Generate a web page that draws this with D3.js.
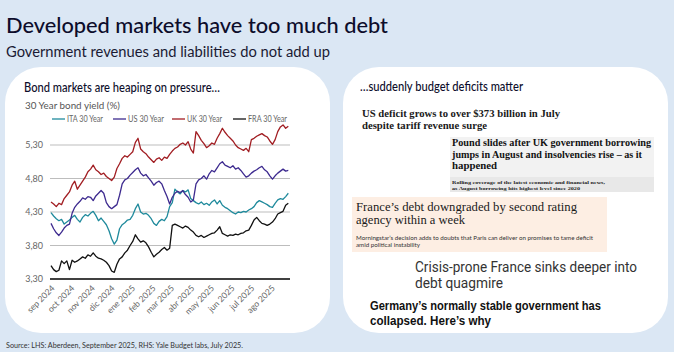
<!DOCTYPE html>
<html><head><meta charset="utf-8">
<script src="https://cdn.jsdelivr.net/npm/d3@7/dist/d3.min.js"></script>
<style>body{margin:0;background:#dbe7f4;}svg{display:block}</style>
</head><body>
<script>
// ---------- DATA ----------
const seriesNames = ["ITA 30 Year", "US 30 Year", "UK 30 Year", "FRA 30 Year"];
const startDate = new Date(2024, 8, 1);
const stepDays = 4;
const itaValues = [4.29,4.24,4.20,4.17,4.19,4.12,4.15,4.18,4.22,4.25,4.19,4.15,4.22,4.26,4.24,4.28,4.31,4.25,4.17,4.21,4.16,4.11,4.02,3.90,3.82,3.88,4.05,4.11,4.14,4.18,4.19,4.25,4.35,4.42,4.30,4.27,4.28,4.25,4.20,4.13,4.10,4.16,4.19,4.17,4.23,4.38,4.44,4.64,4.60,4.57,4.62,4.60,4.63,4.50,4.47,4.44,4.42,4.45,4.41,4.43,4.40,4.45,4.48,4.42,4.47,4.40,4.37,4.35,4.32,4.29,4.27,4.30,4.29,4.31,4.30,4.33,4.35,4.38,4.44,4.47,4.45,4.43,4.41,4.38,4.37,4.43,4.48,4.50,4.49,4.53,4.58];
const usValues = [4.13,4.05,3.99,3.95,4.00,4.06,4.10,4.12,4.28,4.37,4.42,4.46,4.51,4.49,4.53,4.52,4.47,4.54,4.58,4.62,4.58,4.44,4.38,4.35,4.38,4.41,4.55,4.72,4.78,4.80,4.85,4.89,4.93,4.96,4.88,4.84,4.86,4.81,4.76,4.70,4.74,4.76,4.72,4.62,4.53,4.42,4.52,4.58,4.61,4.59,4.62,4.56,4.52,4.45,4.48,4.72,4.78,4.80,4.84,4.79,4.87,4.92,4.90,4.96,5.02,5.05,5.00,4.98,4.96,4.99,4.94,4.96,4.92,4.87,4.82,4.84,4.88,4.91,4.93,4.96,4.98,4.93,4.90,4.84,4.79,4.84,4.88,4.91,4.94,4.91,4.92];
const ukValues = [4.45,4.42,4.38,4.43,4.41,4.50,4.55,4.60,4.70,4.76,4.64,4.70,4.76,4.82,4.90,4.94,5.00,4.93,4.90,4.86,4.88,4.83,4.80,4.77,4.82,4.95,5.02,5.10,5.14,5.12,5.16,5.20,5.34,5.40,5.24,5.20,5.17,5.12,5.08,5.04,5.09,5.11,5.07,5.12,5.10,5.16,5.21,5.25,5.27,5.31,5.33,5.30,5.35,5.24,5.18,5.50,5.44,5.37,5.32,5.26,5.29,5.33,5.31,5.40,5.47,5.55,5.49,5.44,5.40,5.36,5.30,5.26,5.24,5.22,5.25,5.20,5.38,5.40,5.43,5.45,5.47,5.44,5.42,5.36,5.31,5.38,5.50,5.57,5.60,5.55,5.58];
const fraValues = [3.50,3.44,3.41,3.43,3.57,3.53,3.57,3.44,3.58,3.55,3.57,3.60,3.63,3.61,3.66,3.64,3.69,3.64,3.61,3.60,3.58,3.55,3.50,3.42,3.40,3.52,3.60,3.63,3.69,3.73,3.80,3.86,3.96,3.90,3.85,3.87,3.84,3.78,3.70,3.63,3.67,3.70,3.74,3.77,3.73,3.76,4.10,4.12,4.10,4.08,4.06,4.09,4.07,4.03,4.00,3.95,3.93,3.95,3.92,3.94,3.96,3.98,3.99,4.03,4.08,3.98,3.96,3.94,3.96,3.95,3.97,3.96,3.98,3.99,4.02,4.03,4.10,4.18,4.22,4.17,4.13,4.12,4.10,4.12,4.15,4.20,4.27,4.29,4.31,4.40,4.43];
const yTickValues = [3.3, 3.8, 4.3, 4.8, 5.3];
const monthLabels = ["sep 2024","oct 2024","nov 2024","dic 2024","ene 2025","feb 2025","mar 2025","abr 2025","may 2025","jun 2025","jul 2025","ago 2025"];
const seriesColors = ["#1f8a9c", "#3d2a8f", "#a11d22", "#111111"];

// ---------- SETUP ----------
const W = 674, H = 352;
const svg = d3.select("body").append("svg").attr("width", W).attr("height", H);
svg.append("rect").attr("width", W).attr("height", H).attr("fill", "#dbe7f4");

const sans = "Lato, 'Noto Sans', sans-serif";
function txt(g, x, y, s, size, opts = {}) {
  const t = g.append("text").attr("x", x).attr("y", y).text(s)
    .attr("font-size", size).attr("font-family", opts.family || sans)
    .attr("fill", opts.fill || "#0d0d2b");
  if (opts.weight) t.attr("font-weight", opts.weight);
  if (opts.anchor) t.attr("text-anchor", opts.anchor);
  if (opts.len) t.attr("textLength", opts.len).attr("lengthAdjust", "spacingAndGlyphs");
  return t;
}

// Title
txt(svg, 6, 33, "Developed markets have too much debt", 22, {weight: 500, len: 382});
txt(svg, 6, 57, "Government revenues and liabilities do not add up", 14.5, {len: 324, fill: "#1a1a33"});

// Panels
svg.append("rect").attr("x", 5).attr("y", 67).attr("width", 325).attr("height", 266).attr("rx", 36).attr("fill", "#fff");
svg.append("rect").attr("x", 343).attr("y", 67).attr("width", 325).attr("height", 266).attr("rx", 36).attr("fill", "#fff");

// Source
txt(svg, 6, 348, "Source: LHS: Aberdeen, September 2025, RHS: Yale Budget labs, July 2025.", 7.5, {len: 237, fill: "#333"});

// ---------- LEFT CHART ----------
const L = svg.append("g");
txt(L, 24, 91.5, "Bond markets are heaping on pressure\u2026", 12.5, {weight: 500, len: 196});
txt(L, 25, 109, "30 Year bond yield (%)", 10, {fill: "#555", len: 95});

const dates = itaValues.map((_, i) => d3.timeDay.offset(startDate, i * stepDays));
const x = d3.scaleTime().domain([startDate, dates[dates.length - 1]]).range([51, 288.3]);
const y = d3.scaleLinear().domain([3.3, 5.3]).range([279, 145]);

// grid
const grid = L.append("g");
yTickValues.forEach(v => {
  grid.append("line").attr("x1", 50).attr("x2", 290).attr("y1", y(v)).attr("y2", y(v))
    .attr("stroke", v === 3.3 ? "#000" : "#bdbdbd").attr("stroke-width", v === 3.3 ? 1.6 : 1);
});
const yAxis = L.append("g").attr("transform", "translate(50,0)")
  .call(d3.axisLeft(y).tickValues(yTickValues).tickSize(0).tickPadding(7)
    .tickFormat(d => d3.format(".2f")(d).replace(".", ",")));
yAxis.select(".domain").remove();
yAxis.selectAll("text").attr("font-size", 9).attr("font-family", sans).attr("fill", "#666");

const monthDates = d3.timeMonth.range(new Date(2024, 8, 1), new Date(2025, 8, 1));
const xAxis = L.append("g").attr("transform", "translate(0,282)")
  .call(d3.axisBottom(x).tickValues(monthDates).tickSize(0).tickPadding(0)
    .tickFormat((d, i) => monthLabels[i]));
xAxis.select(".domain").remove();
xAxis.selectAll("text").attr("font-size", 8.5).attr("font-family", sans).attr("fill", "#666")
  .attr("text-anchor", "end").attr("dy", "0.3em")
  .attr("transform", "translate(2,5) rotate(-45)");

const allSeries = [itaValues, usValues, ukValues, fraValues];
const line = d3.line().x((d, i) => x(dates[i])).y(d => y(d)).curve(d3.curveLinear);
allSeries.forEach((vals, k) => {
  L.append("path").datum(vals).attr("d", line).attr("fill", "none")
    .attr("stroke", seriesColors[k]).attr("stroke-width", 1.3).attr("stroke-linejoin", "round");
});

const legendX = [52, 113, 172, 233];
const legendTextLen = [36, 36, 35, 39];
seriesNames.forEach((n, k) => {
  L.append("line").attr("x1", legendX[k]).attr("x2", legendX[k] + 13).attr("y1", 119).attr("y2", 119)
    .attr("stroke", seriesColors[k]).attr("stroke-width", 1.3);
  txt(L, legendX[k] + 15, 122, n, 8.5, {fill: "#666", len: legendTextLen[k]});
});

// ---------- RIGHT PANEL ----------
const R = svg.append("g");
txt(R, 360, 91, "\u2026suddenly budget deficits matter", 12.5, {weight: 500, len: 163});

const serif = "'Liberation Serif', 'DejaVu Serif', serif";
txt(R, 362, 116.5, "US deficit grows to over $373 billion in July", 11, {family: serif, weight: 700, fill: "#1a1a1a", len: 198});
txt(R, 362, 128.5, "despite tariff revenue surge", 11, {family: serif, weight: 700, fill: "#1a1a1a", len: 125});

R.append("rect").attr("x", 450).attr("y", 137).attr("width", 204).attr("height", 40).attr("fill", "#f2f2f2");
R.append("rect").attr("x", 450).attr("y", 177).attr("width", 204).attr("height", 15).attr("fill", "#e8e8e8");
txt(R, 452, 146, "Pound slides after UK government borrowing", 10.5, {family: serif, weight: 700, fill: "#121212", len: 199});
txt(R, 452, 157.5, "jumps in August and insolvencies rise \u2013 as it", 10.5, {family: serif, weight: 700, fill: "#121212", len: 190});
txt(R, 452, 168.5, "happened", 10.5, {family: serif, weight: 700, fill: "#121212", len: 45});
txt(R, 452, 183.5, "Rolling coverage of the latest economic and financial news,", 4.8, {family: serif, weight: 700, fill: "#222", len: 153});
txt(R, 452, 189.5, "as August borrowing hits highest level since 2020", 4.8, {family: serif, weight: 700, fill: "#222", len: 128});

R.append("rect").attr("x", 352).attr("y", 197).attr("width", 255).attr("height", 55).attr("fill", "#fdeee3");
txt(R, 356, 210.5, "France\u2019s debt downgraded by second rating", 12.5, {family: serif, fill: "#1a1a1a", len: 221});
txt(R, 356, 223.5, "agency within a week", 12.5, {family: serif, fill: "#1a1a1a", len: 109});
txt(R, 356, 239.5, "Morningstar\u2019s decision adds to doubts that Paris can deliver on promises to tame deficit", 5.2, {fill: "#333", len: 237});
txt(R, 356, 247, "amid political instability", 5.2, {fill: "#333", len: 64});

txt(R, 415, 272, "Crisis-prone France sinks deeper into", 14.5, {family: "Roboto, sans-serif", fill: "#333", len: 222});
txt(R, 415, 287.5, "debt quagmire", 14.5, {family: "Roboto, sans-serif", fill: "#333", len: 88});
txt(R, 370, 310, "Germany\u2019s normally stable government has", 12.5, {family: "'Liberation Sans', Arial, sans-serif", weight: 700, fill: "#111", len: 231});
txt(R, 370, 324.5, "collapsed. Here\u2019s why", 12.5, {family: "'Liberation Sans', Arial, sans-serif", weight: 700, fill: "#111", len: 121});
</script>
</body></html>
